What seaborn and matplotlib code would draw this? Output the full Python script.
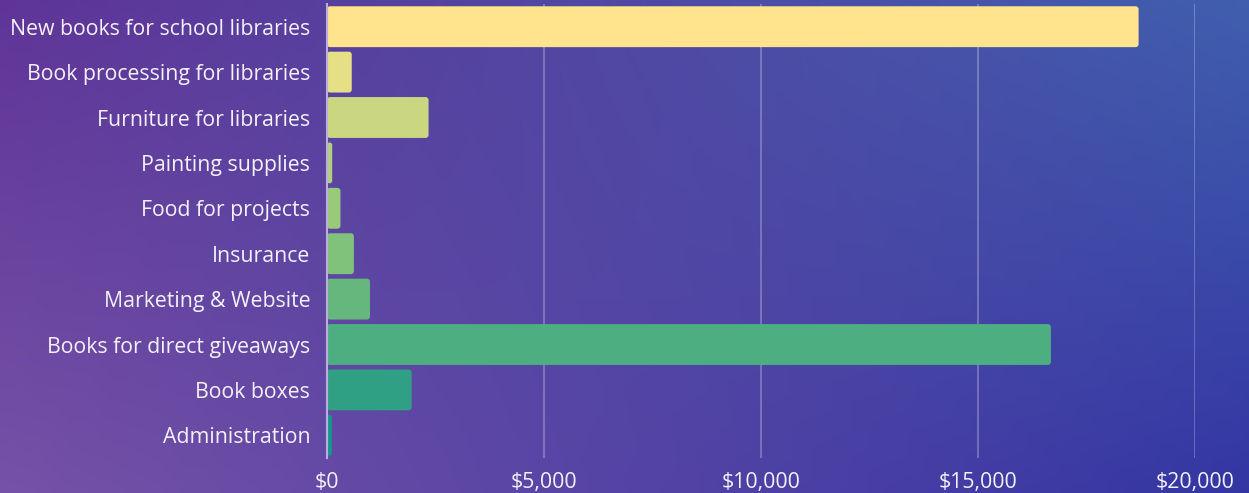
import numpy as np
import pandas as pd
import matplotlib
matplotlib.use("Agg")
import matplotlib.pyplot as plt
import matplotlib.ticker as mticker
from matplotlib.patches import FancyBboxPatch
import seaborn as sns

categories = ["New books for school libraries", "Book processing for libraries",
              "Furniture for libraries", "Painting supplies", "Food for projects",
              "Insurance", "Marketing & Website", "Books for direct giveaways",
              "Book boxes", "Administration"]
values = [18700, 570, 2340, 120, 310, 620, 990, 16680, 1950, 110]
bar_colors = ["#FFE38D", "#E5DF85", "#CBD780", "#B2CF7C", "#99C97B",
              "#80C17B", "#66B77D", "#4DAE82", "#2FA084", "#129A8A"]
x_ticks = [0, 5000, 10000, 15000, 20000]

df = pd.DataFrame({"category": categories, "value": values})

sns.set_theme(style="white")
plt.rcParams["font.family"] = ["Open Sans", "DejaVu Sans"]

fig = plt.figure(figsize=(12.49, 4.93), dpi=100)

# background gradient
bg = fig.add_axes([0, 0, 1, 1], zorder=-10)
h, w = 100, 250
yy, xx = np.mgrid[0:1:h*1j, 0:1:w*1j]
tl = np.array([0x6A, 0x32, 0x96]) / 255
tr = np.array([0x3E, 0x6E, 0xB6]) / 255
bl = np.array([0x8C, 0x5C, 0xAC]) / 255
br = np.array([0x2C, 0x34, 0xA6]) / 255
mid = np.array([0x45, 0x3A, 0x9C]) / 255
img = (tl[None, None] * ((1 - xx) * (1 - yy))[..., None] + tr[None, None] * (xx * (1 - yy))[..., None]
       + bl[None, None] * ((1 - xx) * yy)[..., None] + br[None, None] * (xx * yy)[..., None])
img = 0.7 * img + 0.3 * mid[None, None]
bg.imshow(np.clip(img, 0, 1), aspect="auto", extent=[0, 1, 0, 1], interpolation="bicubic")
bg.axis("off")

ax = fig.add_axes([327/1249, 1 - 458/493, (1195-327)/1249, (458-4)/493])
ax.set_facecolor("none")
sns.barplot(data=df, y="category", x="value", hue="category", palette=bar_colors,
            legend=False, ax=ax, width=0.9, orient="h", saturation=1, linewidth=0)

ax.set_xlim(0, 20000)

# round the bar corners slightly
px_x = 20000 / (1195 - 327)
px_y = 10 / (458 - 4)
r_px = 3
for p in list(ax.patches):
    x0, y0 = p.get_x(), p.get_y()
    wd, ht = p.get_width(), p.get_height()
    fc = p.get_facecolor()
    p.remove()
    r = min(r_px * px_x, wd / 2)
    fb = FancyBboxPatch((x0, y0), wd, ht,
                        boxstyle=f"round,pad=0,rounding_size={r}",
                        mutation_aspect=px_y / px_x, facecolor=fc,
                        edgecolor="none", linewidth=0, zorder=2)
    ax.add_patch(fb)

ax.set_xticks(x_ticks)
ax.xaxis.set_major_formatter(mticker.FuncFormatter(lambda v, p: f"${v:,.0f}"))
ax.set_xlabel("")
ax.set_ylabel("")
ax.grid(axis="x", color="white", alpha=0.3, linewidth=1.2)
ax.set_axisbelow(True)
for s in ["top", "right", "bottom"]:
    ax.spines[s].set_visible(False)
ax.spines["left"].set_color("#B8B0D8")
ax.spines["left"].set_linewidth(1.5)
ax.spines["left"].set_zorder(3)
ax.tick_params(axis="both", colors="#F4F2F8", labelsize=15.3, length=0)
ax.tick_params(axis="y", pad=12)
ax.tick_params(axis="x", pad=10)

fig.savefig("out.png", dpi=100)
